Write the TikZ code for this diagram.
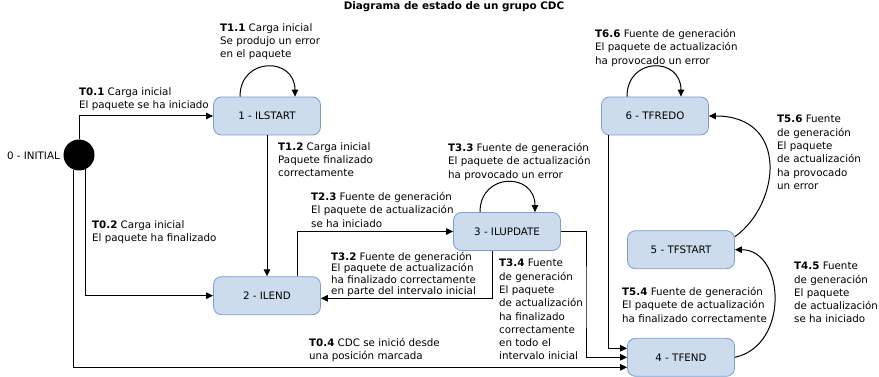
\documentclass[tikz,border=0pt]{standalone}
\usepackage{fontspec}
\setmainfont{DejaVu Sans}
\usetikzlibrary{arrows.meta,calc}
\definecolor{boxfill}{HTML}{CCDCEC}
\definecolor{boxline}{HTML}{7C9CD4}
\begin{document}
\begin{tikzpicture}[x=1pt,y=-1pt,
  state/.style={draw=boxline,fill=boxfill,rounded corners=8pt,minimum width=107pt,minimum height=38pt,line width=0.8pt,font=\fontsize{10.3}{12}\selectfont,inner sep=0pt},
  conn/.style={draw,line width=1pt,-{Triangle[length=7pt,width=6.5pt]}},
  lbl/.style={anchor=north west,inner sep=0pt,align=left,font=\fontsize{10.3}{13.3}\selectfont},
  tightlbl/.style={lbl,font=\fontsize{10.3}{11.2}\selectfont}
]
\useasboundingbox (0,0) rectangle (879,377);

% title
\node[anchor=north,inner sep=0pt,font=\bfseries\fontsize{10.4}{12}\selectfont] (title) at (454,1) {Diagrama de estado de un grupo CDC};

% states
\node[circle,fill=black,minimum size=31pt,inner sep=0pt] (init) at (79,155) {};
\node[anchor=east,inner sep=0pt,font=\fontsize{10.3}{12}\selectfont] (initlbl) at (60,156) {0 - INITIAL};
\node[state] (s1) at (267,116) {1 - ILSTART};
\node[state] (s2) at (267,295.7) {2 - ILEND};
\node[state] (s3) at (507,231.5) {3 - ILUPDATE};
\node[state] (s4) at (681,357.3) {4 - TFEND};
\node[state] (s5) at (681,249.7) {5 - TFSTART};
\node[state] (s6) at (655,116) {6 - TFREDO};

% connectors
\draw[conn] (init.north) |- (s1.west);
\draw[conn] (init.-66) |- (s2.west);
\draw[conn] (init.-109) |- ([yshift=-10pt]s4.west);
\draw[conn] ([xshift=-27pt]s1.north) .. controls +(0,-40) and +(0,-40) .. ([xshift=28pt]s1.north);
\draw[conn] (s1) -- (s2);
\draw[conn] ([xshift=30pt]s2.north) |- (s3.west);
\draw[conn] ([xshift=-15pt]s3.south) |- ([yshift=-2.6pt]s2.east);
\draw[conn] ([xshift=-27pt]s3.north) .. controls +(0,-40) and +(0,-40) .. ([xshift=28pt]s3.north);
\coordinate (k34) at (586,300);
\draw[conn] (s3.east) -| (k34) |- (s4.west);
\draw[conn] ([xshift=-47pt]s6.south) |- ([yshift=9pt]s4.west);
\draw[conn] (s4.east) .. controls ($(s4.east)+(55,-12)$) and ($(s5.east)+(50,0)$) .. (s5.east);
\draw[conn] ([yshift=13pt]s5.east) .. controls ($(s5.east)+(45,-45)$) and ($(s6.east)+(81,0)$) .. (s6.east);
\draw[conn] ([xshift=-28pt]s6.north) .. controls +(0,-40) and +(0,-40) .. ([xshift=26pt]s6.north);

% labels
\node[lbl] (l01) at (79,87) {\textbf{T0.1} Carga inicial\\El paquete se ha iniciado};
\node[lbl] (l11) at (220,23) {\textbf{T1.1} Carga inicial\\Se produjo un error\\en el paquete};
\node[lbl] (l12) at (278,142) {\textbf{T1.2} Carga inicial\\Paquete finalizado\\correctamente};
\node[lbl] (l02) at (92,220) {\textbf{T0.2} Carga inicial\\El paquete ha finalizado};
\node[lbl] (l23) at (311,192) {\textbf{T2.3} Fuente de generación\\El paquete de actualización\\se ha iniciado};
\node[tightlbl] (l32) at (331,252.3) {\textbf{T3.2} Fuente de generación\\El paquete de actualización\\ha finalizado correctamente\\en parte del intervalo inicial};
\node[lbl] (l04) at (309,338) {\textbf{T0.4} CDC se inició desde\\una posición marcada};
\node[lbl] (l33) at (448,143) {\textbf{T3.3} Fuente de generación\\El paquete de actualización\\ha provocado un error};
\node[lbl] (l66) at (595,29) {\textbf{T6.6} Fuente de generación\\El paquete de actualización\\ha provocado un error};
\node[lbl] (l56) at (777,115) {\textbf{T5.6} Fuente\\de generación\\El paquete\\de actualización\\ha provocado\\un error};
\node[lbl] (l34) at (499,259) {\textbf{T3.4} Fuente\\de generación\\El paquete\\de actualización\\ha finalizado\\correctamente\\en todo el\\intervalo inicial};
\node[lbl] (l54) at (622,287) {\textbf{T5.4} Fuente de generación\\El paquete de actualización\\ha finalizado correctamente};
\node[lbl] (l45) at (794,262) {\textbf{T4.5} Fuente\\de generación\\El paquete\\de actualización\\se ha iniciado};
\end{tikzpicture}
\end{document}
